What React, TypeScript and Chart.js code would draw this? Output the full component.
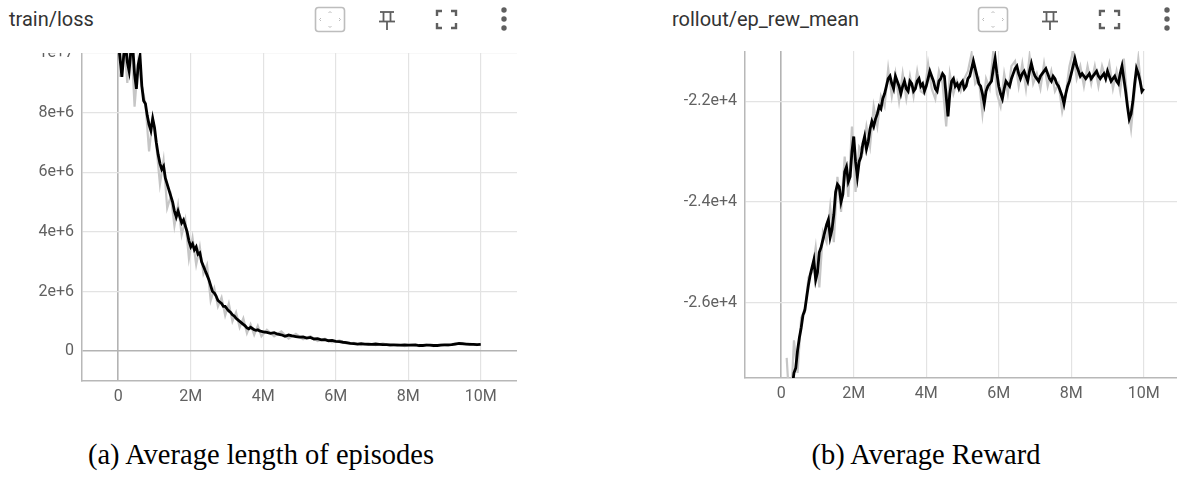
import React, { useEffect, useRef } from 'react';
import { Chart, registerables } from 'chart.js';

Chart.register(...registerables);

// ---- train/loss (x in millions of steps, y in millions) ----
const lossSmoothSteps = [
  0.0, 0.05, 0.1, 0.15, 0.2, 0.25, 0.3, 0.35, 0.4, 0.45, 0.5, 0.55, 0.6, 0.65, 0.7, 0.75, 0.8, 0.85, 0.9, 0.95,
  1.0, 1.05, 1.1, 1.15, 1.2, 1.25, 1.3, 1.35, 1.4, 1.45, 1.5, 1.55, 1.6, 1.65, 1.7, 1.75, 1.8, 1.85, 1.9, 1.95,
  2.0, 2.05, 2.1, 2.15, 2.2, 2.25, 2.3, 2.35, 2.4, 2.45, 2.5, 2.55, 2.6, 2.65, 2.7, 2.75, 2.8, 2.85, 2.9, 2.95,
  3.0, 3.05, 3.1, 3.15, 3.2, 3.25, 3.3, 3.35, 3.4, 3.45, 3.5, 3.55, 3.6, 3.65, 3.7, 3.75, 3.8, 3.85, 3.9, 3.95,
  4.0, 4.1, 4.2, 4.3, 4.4, 4.5, 4.6, 4.7, 4.8, 4.9, 5.0, 5.1, 5.2, 5.3, 5.4, 5.5, 5.6, 5.7, 5.8, 5.9,
  6.0, 6.1, 6.2, 6.3, 6.4, 6.5, 6.6, 6.7, 6.8, 6.9, 7.0, 7.1, 7.2, 7.3, 7.4, 7.5, 7.6, 7.7, 7.8, 7.9,
  8.0, 8.1, 8.2, 8.3, 8.4, 8.5, 8.6, 8.7, 8.8, 8.9, 9.0, 9.1, 9.2, 9.3, 9.4, 9.5, 9.6, 9.7, 9.8, 9.9, 10.0,
];
const lossSmooth = [
  10.4, 9.8, 9.2, 9.9, 10.3, 9.7, 9.4, 10.1, 10.2, 9.3, 8.8, 9.6, 9.9, 8.9, 8.4, 8.3, 7.9, 7.6, 7.4, 7.8,
  7.5, 7.0, 6.6, 6.3, 6.1, 6.2, 5.8, 5.6, 5.4, 5.2, 5.0, 4.7, 4.5, 4.7, 4.5, 4.3, 4.4, 4.2, 4.0, 3.7,
  3.5, 3.6, 3.4, 3.5, 3.25, 3.3, 3.0, 2.85, 2.7, 2.55, 2.4, 2.2, 2.0, 1.95, 1.85, 1.7, 1.65, 1.6, 1.5, 1.5,
  1.42, 1.35, 1.3, 1.22, 1.18, 1.1, 1.05, 1.0, 0.95, 0.9, 0.85, 0.78, 0.75, 0.8, 0.76, 0.72, 0.7, 0.72, 0.68, 0.66,
  0.65, 0.63, 0.6, 0.62, 0.57, 0.55, 0.5, 0.54, 0.51, 0.49, 0.47, 0.48, 0.44, 0.46, 0.41, 0.42, 0.38, 0.39, 0.35, 0.36,
  0.33, 0.32, 0.3, 0.29, 0.26, 0.25, 0.24, 0.25, 0.24, 0.23, 0.23, 0.24, 0.23, 0.22, 0.22, 0.21, 0.21, 0.2, 0.2, 0.21,
  0.2, 0.2, 0.21, 0.19, 0.19, 0.2, 0.2, 0.19, 0.19, 0.2, 0.21, 0.21, 0.22, 0.24, 0.26, 0.25, 0.24, 0.23, 0.23, 0.22, 0.23,
];
const lossRawSteps = [
  0.05, 0.15, 0.25, 0.35, 0.45, 0.55, 0.65, 0.75, 0.85, 0.95, 1.05, 1.15, 1.25, 1.35, 1.45, 1.55, 1.65, 1.75, 1.85, 1.95,
  2.05, 2.15, 2.25, 2.35, 2.45, 2.55, 2.65, 2.75, 2.85, 2.95, 3.05, 3.15, 3.25, 3.35, 3.45, 3.55, 3.65, 3.75, 3.85, 3.95,
  4.1, 4.3, 4.5, 4.7, 4.9, 5.1, 5.3, 5.5, 5.7, 5.9, 6.1, 6.3, 6.5, 6.7, 6.9, 7.1, 7.3, 7.5, 7.7, 7.9,
  8.1, 8.3, 8.5, 8.7, 8.9, 9.1, 9.3, 9.5, 9.7, 9.9,
];
const lossRaw = [
  9.2, 10.5, 9.0, 10.6, 8.2, 9.7, 8.9, 8.3, 6.7, 7.8, 6.9, 5.6, 6.4, 4.8, 5.2, 4.2, 4.9, 3.9, 4.4, 3.1,
  3.8, 2.9, 3.5, 2.6, 2.9, 1.7, 2.1, 1.5, 1.8, 1.2, 1.6, 1.0, 1.3, 0.8, 1.1, 0.6, 0.9, 0.55, 0.85, 0.5,
  0.72, 0.5, 0.66, 0.42, 0.58, 0.4, 0.5, 0.34, 0.42, 0.3, 0.36, 0.25, 0.28, 0.2, 0.27, 0.2, 0.26, 0.18, 0.23, 0.17,
  0.23, 0.17, 0.22, 0.17, 0.22, 0.19, 0.27, 0.22, 0.25, 0.2,
];

// ---- rollout/ep_rew_mean (x in millions of steps) ----
const rewSmoothSteps = [
  0.3, 0.35, 0.4, 0.45, 0.5, 0.55, 0.6, 0.65, 0.7, 0.75, 0.8, 0.85, 0.9, 0.95,
  1.0, 1.05, 1.1, 1.15, 1.2, 1.25, 1.3, 1.35, 1.4, 1.45, 1.5, 1.55, 1.6, 1.65, 1.7, 1.75, 1.8, 1.85, 1.9, 1.95,
  2.0, 2.05, 2.1, 2.15, 2.2, 2.25, 2.3, 2.35, 2.4, 2.45, 2.5, 2.55, 2.6, 2.65, 2.7, 2.75, 2.8, 2.85, 2.9, 2.95,
  3.0, 3.05, 3.1, 3.15, 3.2, 3.25, 3.3, 3.35, 3.4, 3.45, 3.5, 3.55, 3.6, 3.65, 3.7, 3.75, 3.8, 3.85, 3.9, 3.95,
  4.0, 4.05, 4.1, 4.15, 4.2, 4.25, 4.3, 4.35, 4.4, 4.45, 4.5, 4.55, 4.6, 4.65, 4.7, 4.75, 4.8, 4.85, 4.9, 4.95,
  5.0, 5.05, 5.1, 5.15, 5.2, 5.25, 5.3, 5.35, 5.4, 5.45, 5.5, 5.55, 5.6, 5.65, 5.7, 5.75, 5.8, 5.85, 5.9, 5.95,
  6.0, 6.05, 6.1, 6.15, 6.2, 6.25, 6.3, 6.35, 6.4, 6.45, 6.5, 6.55, 6.6, 6.65, 6.7, 6.75, 6.8, 6.85, 6.9, 6.95,
  7.0, 7.05, 7.1, 7.15, 7.2, 7.25, 7.3, 7.35, 7.4, 7.45, 7.5, 7.55, 7.6, 7.65, 7.7, 7.75, 7.8, 7.85, 7.9, 7.95,
  8.0, 8.05, 8.1, 8.15, 8.2, 8.25, 8.3, 8.35, 8.4, 8.45, 8.5, 8.55, 8.6, 8.65, 8.7, 8.75, 8.8, 8.85, 8.9, 8.95,
  9.0, 9.05, 9.1, 9.15, 9.2, 9.25, 9.3, 9.35, 9.4, 9.45, 9.5, 9.55, 9.6, 9.65, 9.7, 9.75, 9.8, 9.85, 9.9, 9.95,
  10.0,
];
const rewSmooth = [
  -27700, -27400, -27300, -26950, -26700, -26500, -26250, -26150, -25900, -25650, -25450, -25300, -25150, -25550,
  -25400, -25000, -24900, -24750, -24600, -24450, -24350, -24700, -24550, -24250, -23800, -23650, -23700, -24000, -23850, -23400, -23300, -23600, -23500, -23000,
  -22700, -23200, -23500, -23200, -23100, -22850, -22700, -22950, -22800, -22550, -22400, -22500, -22350, -22250, -22100, -22150, -21950, -21850, -21700, -21550,
  -21500, -21650, -21750, -21500, -21600, -21700, -21850, -21700, -21600, -21750, -21800, -21600, -21650, -21800, -21750, -21600, -21550, -21700, -21650, -21800,
  -21700, -21550, -21400, -21500, -21600, -21750, -21800, -21600, -21550, -21450, -21500, -21900, -22300, -21850, -21600, -21550, -21700, -21650, -21750, -21650,
  -21600, -21750, -21700, -21550, -21500, -21350, -21200, -21350, -21500, -21650, -21700, -21850, -22050, -21800, -21700, -21650, -21600, -21350, -21150, -21450,
  -21700, -21850, -21950, -21750, -21600, -21650, -21700, -21550, -21450, -21350, -21300, -21450, -21550, -21450, -21400, -21500, -21600, -21400, -21250, -21400,
  -21500, -21550, -21600, -21500, -21450, -21400, -21350, -21450, -21550, -21600, -21500, -21550, -21650, -21700, -21800, -21900, -22050, -21850, -21700, -21600,
  -21450, -21300, -21150, -21300, -21400, -21500, -21450, -21500, -21550, -21500, -21450, -21550, -21500, -21450, -21400, -21500, -21550, -21500, -21450, -21550,
  -21400, -21500, -21600, -21550, -21500, -21600, -21650, -21450, -21300, -21550, -21800, -22100, -22350, -22250, -22000, -21650, -21350, -21450, -21600, -21800,
  -21750,
];
const rewRawSteps = [
  0.15, 0.25, 0.35, 0.45, 0.55, 0.65, 0.75, 0.85, 0.95, 1.05, 1.15, 1.25, 1.35, 1.45, 1.55, 1.65, 1.75, 1.85, 1.95, 2.05,
  2.15, 2.25, 2.35, 2.45, 2.55, 2.65, 2.75, 2.85, 2.95, 3.05, 3.15, 3.25, 3.35, 3.45, 3.55, 3.65, 3.75, 3.85, 3.95, 4.05,
  4.15, 4.25, 4.35, 4.45, 4.55, 4.65, 4.75, 4.85, 4.95, 5.05, 5.15, 5.25, 5.35, 5.45, 5.55, 5.65, 5.75, 5.85, 5.95, 6.05,
  6.15, 6.25, 6.35, 6.45, 6.55, 6.65, 6.75, 6.85, 6.95, 7.05, 7.15, 7.25, 7.35, 7.45, 7.55, 7.65, 7.75, 7.85, 7.95, 8.05,
  8.15, 8.25, 8.35, 8.45, 8.55, 8.65, 8.75, 8.85, 8.95, 9.05, 9.15, 9.25, 9.35, 9.45, 9.55, 9.65, 9.75, 9.85, 9.95,
];
const rewRaw = [
  -27100, -28300, -26750, -27400, -26300, -26200, -25500, -25400, -24900, -25700,
  -24600, -24800, -24100, -24800, -23500, -24200, -23100, -23900, -22500, -23800,
  -22900, -23000, -22500, -22900, -22100, -22500, -21900, -22100, -21350, -21900,
  -21450, -22000, -21450, -21950, -21500, -21900, -21400, -21800, -21850, -21250,
  -21750, -21950, -21400, -21650, -22500, -21450, -21850, -21600, -21800, -21550,
  -21400, -21050, -21650, -21550, -22250, -21550, -21750, -21000, -21850, -22100,
  -21450, -21850, -21300, -21200, -21700, -21250, -21750, -21100, -21650, -21450,
  -21750, -21250, -21700, -21400, -21800, -21650, -22200, -21850, -21300, -21000,
  -21550, -21300, -21700, -21300, -21650, -21300, -21700, -21300, -21550, -21250,
  -21750, -21400, -21800, -21150, -22000, -22550, -21800, -21150, -21850,
];

// ---- tick positions and labels ----
const xTickValues = [0, 2e6, 4e6, 6e6, 8e6, 10e6];
const xTickLabels = ['0', '2M', '4M', '6M', '8M', '10M'];
const lossTickValues = [0, 2e6, 4e6, 6e6, 8e6, 1e7];
const lossTickLabels = ['0', '2e+6', '4e+6', '6e+6', '8e+6', '1e+7'];
const rewTickValues = [-26000, -24000, -22000];
const rewTickLabels = ['-2.6e+4', '-2.4e+4', '-2.2e+4'];

const TICK_FONT = { family: 'Roboto', size: 16 };
const TICK_COLOR = '#616161';

type ChartProps = {
  left: number;
  top: number;
  width: number;
  height: number;
  xAxisHeight: number;
  yMin: number;
  yMax: number;
  yTicks: number[];
  yLabels: string[];
  smooth: { x: number; y: number }[];
  raw: { x: number; y: number }[];
};

const gridColor = (c: any) => (c.tick && c.tick.value === 0 ? '#b3b3b3' : '#e3e3e3');
const gridWidth = (c: any) => (c.tick && c.tick.value === 0 ? 1.6 : 1.2);

function TBChart(p: ChartProps) {
  const ref = useRef<HTMLCanvasElement | null>(null);
  useEffect(() => {
    if (!ref.current) return;
    const chart = new Chart(ref.current, {
      type: 'line',
      data: {
        datasets: [
          { data: p.smooth, borderColor: '#000000', borderWidth: 2.8, pointRadius: 0, tension: 0 },
          { data: p.raw, borderColor: '#c6c6c6', borderWidth: 2.2, pointRadius: 0, tension: 0 },
        ],
      },
      options: {
        animation: false,
        responsive: false,
        devicePixelRatio: 1,
        layout: { padding: 0, autoPadding: false },
        plugins: { legend: { display: false }, tooltip: { enabled: false } },
        scales: {
          x: {
            type: 'linear',
            min: -1e6,
            max: 11e6,
            afterFit: (s: any) => {
              s.height = p.xAxisHeight;
              s.paddingLeft = 0;
              s.paddingRight = 0;
            },
            afterBuildTicks: (s: any) => { s.ticks = xTickValues.map((v) => ({ value: v })); },
            ticks: {
              autoSkip: false,
              maxRotation: 0,
              padding: 6,
              font: TICK_FONT,
              color: TICK_COLOR,
              callback: (v: any) => xTickLabels[xTickValues.indexOf(Number(v))] ?? '',
            },
            grid: { drawTicks: false, color: gridColor, lineWidth: gridWidth },
            border: { display: true, color: '#b8b8b8', width: 1.5 },
          },
          y: {
            type: 'linear',
            min: p.yMin,
            max: p.yMax,
            afterFit: (s: any) => {
              s.width = 82;
              s.paddingTop = 0;
              s.paddingBottom = 0;
            },
            afterBuildTicks: (s: any) => { s.ticks = p.yTicks.map((v) => ({ value: v })); },
            ticks: {
              autoSkip: false,
              padding: 8,
              font: TICK_FONT,
              color: TICK_COLOR,
              callback: (v: any) => p.yLabels[p.yTicks.indexOf(Number(v))] ?? '',
            },
            grid: { drawTicks: false, color: gridColor, lineWidth: gridWidth },
            border: { display: true, color: '#b8b8b8', width: 1.5 },
          },
        },
      },
    } as any);
    return () => chart.destroy();
  }, []);
  return (
    <canvas
      ref={ref}
      width={p.width}
      height={p.height}
      style={{ position: 'absolute', left: p.left, top: p.top, width: p.width, height: p.height }}
    />
  );
}

function Icons({ offset }: { offset: number }) {
  const c = '#5f5f5f';
  return (
    <svg
      width={230}
      height={40}
      style={{ position: 'absolute', left: offset + 300, top: 0 }}
      viewBox="300 0 230 40"
    >
      <rect x={315.5} y={7.5} width={29} height={24} rx={3} fill="none" stroke="#bdbdbd" strokeWidth={1.6} />
      <polyline points="328.5,13 330,11.5 331.5,13" fill="none" stroke="#bdbdbd" strokeWidth={1} />
      <polyline points="328.5,26 330,27.5 331.5,26" fill="none" stroke="#bdbdbd" strokeWidth={1} />
      <polyline points="321,18 319.5,19.5 321,21" fill="none" stroke="#bdbdbd" strokeWidth={1} />
      <polyline points="339,18 340.5,19.5 339,21" fill="none" stroke="#bdbdbd" strokeWidth={1} />
      <g stroke={c} strokeWidth={1.8} fill="none">
        <line x1={380} y1={12} x2={394} y2={12} />
        <line x1={383.5} y1={12} x2={383.5} y2={21} />
        <line x1={390.5} y1={12} x2={390.5} y2={21} />
        <line x1={379} y1={21.5} x2={395} y2={21.5} />
        <line x1={387} y1={21.5} x2={387} y2={30} />
      </g>
      <g stroke={c} strokeWidth={2.4} fill="none">
        <polyline points="437,16 437,11 442,11" />
        <polyline points="451,11 456,11 456,16" />
        <polyline points="437,23 437,28 442,28" />
        <polyline points="451,28 456,28 456,23" />
      </g>
      <circle cx={504} cy={10} r={2.7} fill={c} />
      <circle cx={504} cy={19} r={2.7} fill={c} />
      <circle cx={504} cy={28} r={2.7} fill={c} />
    </svg>
  );
}

const titleStyle: React.CSSProperties = {
  position: 'absolute',
  top: 9,
  fontFamily: 'Roboto',
  fontSize: 20,
  lineHeight: 1,
  color: '#333333',
  whiteSpace: 'nowrap',
};

const captionStyle: React.CSSProperties = {
  position: 'absolute',
  top: 441,
  fontFamily: '"Liberation Serif", serif',
  fontSize: 28.5,
  lineHeight: 1,
  color: '#000',
  whiteSpace: 'nowrap',
  transform: 'translateX(-50%)',
};

export default function App() {
  const lossSmoothPts = lossSmoothSteps.map((s, i) => ({ x: s * 1e6, y: lossSmooth[i] * 1e6 }));
  const lossRawPts = lossRawSteps.map((s, i) => ({ x: s * 1e6, y: lossRaw[i] * 1e6 }));
  const rewSmoothPts = rewSmoothSteps.map((s, i) => ({ x: s * 1e6, y: rewSmooth[i] }));
  const rewRawPts = rewRawSteps.map((s, i) => ({ x: s * 1e6, y: rewRaw[i] }));
  return (
    <div
      style={{
        position: 'absolute',
        left: 0,
        top: 0,
        width: 1177,
        height: 477,
        overflow: 'hidden',
        background: '#ffffff',
      }}
    >
      <div style={{ ...titleStyle, left: 9 }}>train/loss</div>
      <div style={{ ...titleStyle, left: 672 }}>rollout/ep_rew_mean</div>
      <Icons offset={0} />
      <Icons offset={663} />
      <TBChart left={0} top={53} width={517} height={360} xAxisHeight={32} yMin={-1e6} yMax={1e7}
        yTicks={lossTickValues} yLabels={lossTickLabels} smooth={lossSmoothPts} raw={lossRawPts} />
      <TBChart left={663} top={51} width={517} height={360} xAxisHeight={33} yMin={-27500} yMax={-21000}
        yTicks={rewTickValues} yLabels={rewTickLabels} smooth={rewSmoothPts} raw={rewRawPts} />
      <div style={{ ...captionStyle, left: 261 }}>(a) Average length of episodes</div>
      <div style={{ ...captionStyle, left: 926 }}>(b) Average Reward</div>
    </div>
  );
}
